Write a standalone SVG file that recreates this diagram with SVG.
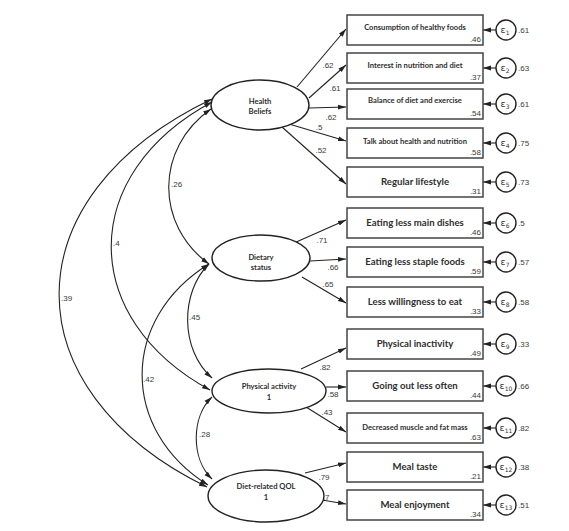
<svg xmlns="http://www.w3.org/2000/svg" width="569" height="531" viewBox="0 0 569 531">
<defs>
<marker id="ah" viewBox="0 0 10 10" refX="10" refY="5" markerWidth="8" markerHeight="8" markerUnits="userSpaceOnUse" orient="auto-start-reverse">
<path d="M0,2 L10,5 L0,8 z" fill="#222"/>
</marker>
<style>
.box{fill:#fff;stroke:#444;stroke-width:1.5}
.ell{fill:#fff;stroke:#222;stroke-width:1.4}
.err{fill:#fff;stroke:#222;stroke-width:1.4}
.ln{fill:none;stroke:#222;stroke-width:1.1}
.bt{font-family:Lato,"Liberation Sans",sans-serif;font-weight:700;fill:#2e2e2e;text-anchor:middle}
.s8{font-size:7.6px}
.s10{font-size:9.6px}
.et{font-family:Lato,"Liberation Sans",sans-serif;font-weight:700;fill:#2e2e2e;font-size:7.6px;text-anchor:middle}
.num{font-family:"Liberation Sans",Arial,sans-serif;font-size:8px;fill:#3a3a3a}
.r2{font-family:"Liberation Sans",Arial,sans-serif;font-size:8px;fill:#3a3a3a;text-anchor:end}
.mid{text-anchor:middle}
.eps{font-family:"DejaVu Sans",sans-serif;font-size:9.5px;fill:#333;text-anchor:middle}
</style>
</defs>
<rect width="569" height="531" fill="#fff"/>

<g id="connectors">
<!-- covariances -->
<path class="ln" d="M212,99 C9,196 9,390 207,487" marker-start="url(#ah)" marker-end="url(#ah)"/>
<path class="ln" d="M212,102 C78,174 78,318 210,390" marker-start="url(#ah)" marker-end="url(#ah)"/>
<path class="ln" d="M211,109 C155,148 155,225 209,264" marker-start="url(#ah)" marker-end="url(#ah)"/>
<path class="ln" d="M209,264 C180,292 180,350 212,378" marker-start="url(#ah)" marker-end="url(#ah)"/>
<path class="ln" d="M209,264 C120,319 120,430 208,485" marker-start="url(#ah)" marker-end="url(#ah)"/>
<path class="ln" d="M212,397 C191,417 191,459 212,479" marker-start="url(#ah)" marker-end="url(#ah)"/>
<text class="num" x="61" y="301">.39</text>
<text class="num" x="113" y="246">.4</text>
<text class="num" x="171" y="187">.26</text>
<text class="num" x="189" y="320">.45</text>
<text class="num" x="143" y="382">.42</text>
<text class="num" x="199" y="437">.28</text>
<!-- loadings -->
<line class="ln" x1="297" y1="87" x2="346" y2="29" marker-end="url(#ah)"/>
<line class="ln" x1="309" y1="98" x2="346" y2="65" marker-end="url(#ah)"/>
<line class="ln" x1="309" y1="108" x2="346" y2="107" marker-end="url(#ah)"/>
<line class="ln" x1="289" y1="124" x2="346" y2="141" marker-end="url(#ah)"/>
<line class="ln" x1="282" y1="127" x2="346" y2="184" marker-end="url(#ah)"/>
<line class="ln" x1="294" y1="243" x2="346" y2="220" marker-end="url(#ah)"/>
<line class="ln" x1="310" y1="261" x2="346" y2="259" marker-end="url(#ah)"/>
<line class="ln" x1="302" y1="277" x2="346" y2="303" marker-end="url(#ah)"/>
<line class="ln" x1="301" y1="369" x2="346" y2="348" marker-end="url(#ah)"/>
<line class="ln" x1="326" y1="387" x2="346" y2="387" marker-end="url(#ah)"/>
<line class="ln" x1="306" y1="407" x2="346" y2="432" marker-end="url(#ah)"/>
<line class="ln" x1="305" y1="473" x2="346" y2="463" marker-end="url(#ah)"/>
<line class="ln" x1="322" y1="500" x2="346" y2="504" marker-end="url(#ah)"/>
<text class="num mid" x="328" y="68">.62</text>
<text class="num mid" x="335" y="91">.61</text>
<text class="num mid" x="331" y="120">.62</text>
<text class="num mid" x="319" y="130">.5</text>
<text class="num mid" x="321" y="153">.52</text>
<text class="num mid" x="322" y="243">.71</text>
<text class="num mid" x="333" y="270">.66</text>
<text class="num mid" x="328" y="287">.65</text>
<text class="num mid" x="325" y="370">.82</text>
<text class="num mid" x="333" y="397">.58</text>
<text class="num mid" x="327" y="415">.43</text>
<text class="num mid" x="324" y="480">.79</text>
<text class="num mid" x="326" y="500">.7</text>
<!-- error arrows -->
<line class="ln" x1="496" y1="30" x2="483" y2="30" marker-end="url(#ah)"/>
<line class="ln" x1="496" y1="68" x2="483" y2="68" marker-end="url(#ah)"/>
<line class="ln" x1="496" y1="104" x2="483" y2="104" marker-end="url(#ah)"/>
<line class="ln" x1="496" y1="143" x2="483" y2="143" marker-end="url(#ah)"/>
<line class="ln" x1="496" y1="182" x2="483" y2="182" marker-end="url(#ah)"/>
<line class="ln" x1="496" y1="223" x2="483" y2="223" marker-end="url(#ah)"/>
<line class="ln" x1="496" y1="262" x2="483" y2="262" marker-end="url(#ah)"/>
<line class="ln" x1="496" y1="302" x2="483" y2="302" marker-end="url(#ah)"/>
<line class="ln" x1="496" y1="344" x2="483" y2="344" marker-end="url(#ah)"/>
<line class="ln" x1="496" y1="386" x2="483" y2="386" marker-end="url(#ah)"/>
<line class="ln" x1="496" y1="428" x2="483" y2="428" marker-end="url(#ah)"/>
<line class="ln" x1="496" y1="467" x2="483" y2="467" marker-end="url(#ah)"/>
<line class="ln" x1="496" y1="505" x2="483" y2="505" marker-end="url(#ah)"/>
</g>

<g id="health-beliefs"><ellipse class="ell" cx="260" cy="105" rx="49" ry="25"/><text class="et" x="260" y="103.5">Health</text><text class="et" x="260" y="114">Beliefs</text></g>
<g id="dietary-status"><ellipse class="ell" cx="261" cy="258" rx="49" ry="23"/><text class="et" x="261" y="260">Dietary</text><text class="et" x="261" y="270">status</text></g>
<g id="physical-activity"><ellipse class="ell" cx="269" cy="391" rx="57" ry="22"/><text class="et" x="269" y="389">Physical activity</text><text class="et" x="269" y="400">1</text></g>
<g id="diet-qol"><ellipse class="ell" cx="266" cy="496" rx="58" ry="26"/><text class="et" x="266" y="489">Diet-related QOL</text><text class="et" x="266" y="500">1</text></g>

<g id="box1"><rect class="box" x="347" y="15" width="136" height="30"/><text class="bt s8" x="415" y="30">Consumption of healthy foods</text><text class="r2" x="481" y="42">.46</text></g>
<g id="box2"><rect class="box" x="347" y="53" width="136" height="30"/><text class="bt s8" x="415" y="68">Interest in nutrition and diet</text><text class="r2" x="481" y="80">.37</text></g>
<g id="box3"><rect class="box" x="347" y="89" width="136" height="30"/><text class="bt s8" x="415" y="103">Balance of diet and exercise</text><text class="r2" x="481" y="116">.54</text></g>
<g id="box4"><rect class="box" x="347" y="128" width="136" height="30"/><text class="bt s8" x="415" y="144">Talk about health and nutrition</text><text class="r2" x="481" y="155">.58</text></g>
<g id="box5"><rect class="box" x="347" y="167" width="136" height="30"/><text class="bt s10" x="415" y="185">Regular lifestyle</text><text class="r2" x="481" y="194">.31</text></g>
<g id="box6"><rect class="box" x="347" y="208" width="136" height="30"/><text class="bt s10" x="415" y="226">Eating less main dishes</text><text class="r2" x="481" y="235">.46</text></g>
<g id="box7"><rect class="box" x="347" y="247" width="136" height="30"/><text class="bt s10" x="415" y="265">Eating less staple foods</text><text class="r2" x="481" y="274">.59</text></g>
<g id="box8"><rect class="box" x="347" y="287" width="136" height="30"/><text class="bt s10" x="415" y="305">Less willingness to eat</text><text class="r2" x="481" y="314">.33</text></g>
<g id="box9"><rect class="box" x="347" y="329" width="136" height="30"/><text class="bt s10" x="415" y="347">Physical inactivity</text><text class="r2" x="481" y="356">.49</text></g>
<g id="box10"><rect class="box" x="347" y="371" width="136" height="30"/><text class="bt s10" x="415" y="389">Going out less often</text><text class="r2" x="481" y="398">.44</text></g>
<g id="box11"><rect class="box" x="347" y="413" width="136" height="30"/><text class="bt s8" x="415" y="430">Decreased muscle and fat mass</text><text class="r2" x="481" y="440">.63</text></g>
<g id="box12"><rect class="box" x="347" y="452" width="136" height="30"/><text class="bt s10" x="415" y="470">Meal taste</text><text class="r2" x="481" y="479">.21</text></g>
<g id="box13"><rect class="box" x="347" y="490" width="136" height="30"/><text class="bt s10" x="415" y="508">Meal enjoyment</text><text class="r2" x="481" y="517">.34</text></g>

<g id="e1"><circle class="err" cx="506" cy="30" r="10"/><text class="eps" x="505" y="33">ε<tspan font-size="6" dy="2">1</tspan></text><text class="num" x="518" y="33">.61</text></g>
<g id="e2"><circle class="err" cx="506" cy="68" r="10"/><text class="eps" x="505" y="71">ε<tspan font-size="6" dy="2">2</tspan></text><text class="num" x="518" y="71">.63</text></g>
<g id="e3"><circle class="err" cx="506" cy="104" r="10"/><text class="eps" x="505" y="107">ε<tspan font-size="6" dy="2">3</tspan></text><text class="num" x="518" y="107">.61</text></g>
<g id="e4"><circle class="err" cx="506" cy="143" r="10"/><text class="eps" x="505" y="146">ε<tspan font-size="6" dy="2">4</tspan></text><text class="num" x="518" y="146">.75</text></g>
<g id="e5"><circle class="err" cx="506" cy="182" r="10"/><text class="eps" x="505" y="185">ε<tspan font-size="6" dy="2">5</tspan></text><text class="num" x="518" y="185">.73</text></g>
<g id="e6"><circle class="err" cx="506" cy="223" r="10"/><text class="eps" x="505" y="226">ε<tspan font-size="6" dy="2">6</tspan></text><text class="num" x="518" y="226">.5</text></g>
<g id="e7"><circle class="err" cx="506" cy="262" r="10"/><text class="eps" x="505" y="265">ε<tspan font-size="6" dy="2">7</tspan></text><text class="num" x="518" y="265">.57</text></g>
<g id="e8"><circle class="err" cx="506" cy="302" r="10"/><text class="eps" x="505" y="305">ε<tspan font-size="6" dy="2">8</tspan></text><text class="num" x="518" y="305">.58</text></g>
<g id="e9"><circle class="err" cx="506" cy="344" r="10"/><text class="eps" x="505" y="347">ε<tspan font-size="6" dy="2">9</tspan></text><text class="num" x="518" y="347">.33</text></g>
<g id="e10"><circle class="err" cx="506" cy="386" r="10"/><text class="eps" x="506" y="389">ε<tspan font-size="6" dy="2">10</tspan></text><text class="num" x="518" y="389">.66</text></g>
<g id="e11"><circle class="err" cx="506" cy="428" r="10"/><text class="eps" x="506" y="431">ε<tspan font-size="6" dy="2">11</tspan></text><text class="num" x="518" y="431">.82</text></g>
<g id="e12"><circle class="err" cx="506" cy="467" r="10"/><text class="eps" x="506" y="470">ε<tspan font-size="6" dy="2">12</tspan></text><text class="num" x="518" y="470">.38</text></g>
<g id="e13"><circle class="err" cx="506" cy="505" r="10"/><text class="eps" x="506" y="508">ε<tspan font-size="6" dy="2">13</tspan></text><text class="num" x="518" y="508">.51</text></g>
</svg>
